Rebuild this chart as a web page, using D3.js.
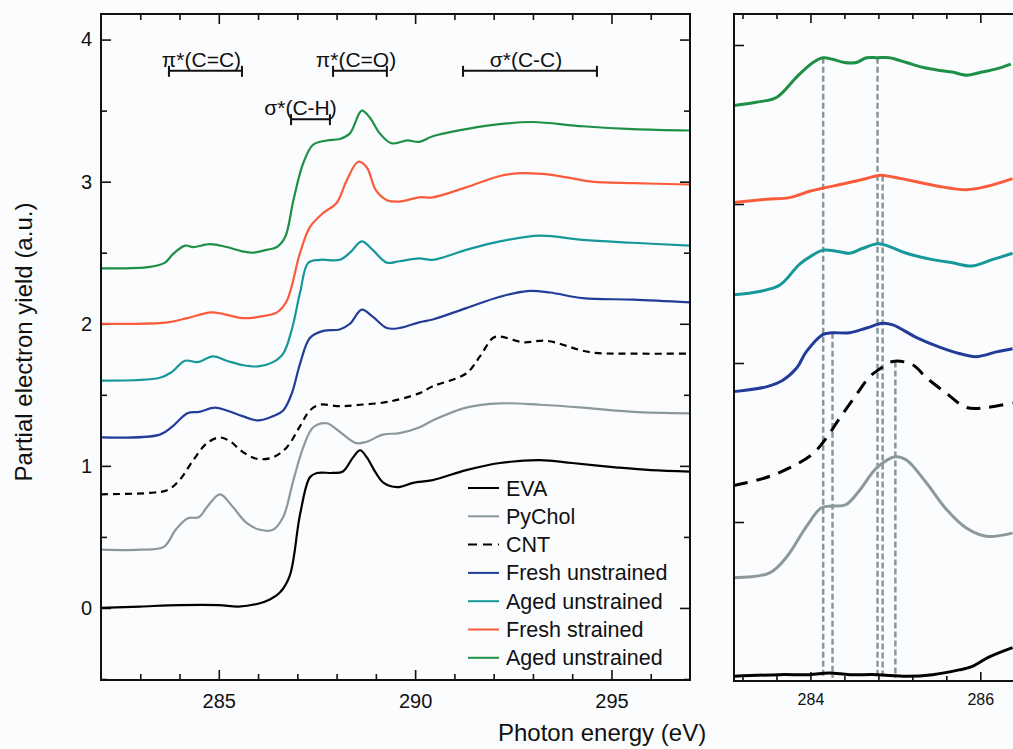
<!DOCTYPE html>
<html>
<head>
<meta charset="utf-8">
<script src="https://cdn.jsdelivr.net/npm/d3@7"></script>
<style>
    body { margin: 0; background: #fbfcfe; }
    svg { display: block; font-family: "Liberation Sans", Arial, sans-serif; }
    .tick text { font-size: 20px; fill: #111; }
    .tick line { stroke: #111; stroke-width: 1.6; }
</style>
</head>
<body>
<svg width="1013" height="749"></svg>
<script>
'use strict';

// full spectra, [photon energy (eV), yield]
let eva = [[282, 0], [283, 0.01], [284, 0.02], [285, 0.02], [285.5, 0.01], [286, 0.03], [286.3, 0.06], [286.56, 0.11],
    [286.81, 0.23], [287.07, 0.66], [287.32, 0.92], [287.5, 0.95], [287.9, 0.95], [288.16, 0.96], [288.42, 1.06],
    [288.6, 1.11], [288.77, 1.06], [289.0, 0.95], [289.2, 0.88], [289.54, 0.85], [289.95, 0.88], [290.45, 0.9],
    [291.3, 0.97], [292.16, 1.02], [293.18, 1.04], [294.0, 1.02], [295.1, 0.99], [296, 0.97], [297, 0.96]];
let pychol = [[282, 0.41], [283, 0.41], [283.6, 0.43], [283.9, 0.55], [284.2, 0.63], [284.5, 0.64], [284.7, 0.71],
    [285.03, 0.80], [285.36, 0.71], [285.7, 0.60], [286.05, 0.55], [286.38, 0.55], [286.64, 0.64], [286.9, 0.90],
    [287.15, 1.13], [287.4, 1.27], [287.75, 1.30], [288.08, 1.24], [288.5, 1.16], [288.77, 1.17], [289.18, 1.22],
    [289.6, 1.23], [290.1, 1.27], [290.45, 1.32], [291.3, 1.41], [292.16, 1.44], [293.18, 1.43], [294.27, 1.41],
    [295.55, 1.38], [297, 1.37]];
let cnt = [[282, 0.80], [283.25, 0.81], [283.7, 0.83], [284.0, 0.90], [284.35, 1.04], [284.7, 1.16], [285.03, 1.20],
    [285.3, 1.17], [285.6, 1.10], [285.96, 1.05], [286.38, 1.06], [286.73, 1.13], [287.07, 1.28], [287.32, 1.39],
    [287.58, 1.43], [288.08, 1.42], [288.6, 1.43], [289.3, 1.45], [290.1, 1.51], [290.45, 1.56], [291.3, 1.65],
    [291.65, 1.77], [291.98, 1.90], [292.16, 1.91], [292.75, 1.87], [293.35, 1.88], [294.45, 1.80], [295.55, 1.79],
    [297, 1.79]];
let freshUnstrained = [[282, 1.20], [283.5, 1.22], [283.83, 1.28], [284.2, 1.37], [284.5, 1.38], [284.9, 1.41],
    [285.2, 1.39], [285.6, 1.35], [286.0, 1.32], [286.38, 1.35], [286.64, 1.39], [286.86, 1.51], [287.07, 1.72],
    [287.32, 1.90], [287.66, 1.95], [288.08, 1.96], [288.34, 2.0], [288.64, 2.10], [288.92, 2.05], [289.28, 1.97],
    [289.6, 1.97], [290.1, 2.01], [290.45, 2.03], [291.3, 2.11], [292.16, 2.19], [292.85, 2.23], [293.43, 2.22],
    [294.27, 2.18], [295.55, 2.17], [297, 2.15]];
let agedUnstrained = [[282, 1.60], [283.5, 1.62], [283.8, 1.66], [284.14, 1.74], [284.47, 1.73], [284.85, 1.77],
    [285.2, 1.74], [285.6, 1.71], [286.0, 1.70], [286.38, 1.73], [286.64, 1.79], [286.86, 1.96], [287.07, 2.22],
    [287.28, 2.43], [287.58, 2.45], [288.08, 2.45], [288.34, 2.50], [288.64, 2.58], [288.92, 2.52], [289.28, 2.43],
    [289.6, 2.44], [290.1, 2.46], [290.45, 2.45], [291.3, 2.52], [292.16, 2.58], [293.18, 2.62], [294.27, 2.59],
    [295.55, 2.57], [297, 2.55]];
let freshStrained = [[282, 2.0], [283.7, 2.01], [284.2, 2.04], [284.8, 2.08], [285.1, 2.07], [285.6, 2.04],
    [286.05, 2.05], [286.48, 2.08], [286.73, 2.16], [287.07, 2.5], [287.32, 2.68], [287.66, 2.78], [288.0, 2.85],
    [288.26, 3.01], [288.55, 3.14], [288.77, 3.10], [289.0, 2.94], [289.28, 2.87], [289.6, 2.86], [290.1, 2.89],
    [290.45, 2.89], [291.3, 2.96], [292.16, 3.04], [292.67, 3.06], [293.43, 3.05], [294.5, 3.0], [295.55, 2.99],
    [297, 2.98]];
let agedUnstrained2 = [[282, 2.39], [283.25, 2.40], [283.63, 2.43], [283.83, 2.49], [284.14, 2.55], [284.35, 2.54],
    [284.78, 2.56], [285.2, 2.54], [285.6, 2.51], [285.87, 2.50], [286.22, 2.52], [286.48, 2.54], [286.69, 2.61],
    [286.9, 2.87], [287.15, 3.13], [287.4, 3.26], [287.75, 3.29], [288.08, 3.30], [288.34, 3.34], [288.64, 3.50],
    [288.85, 3.45], [289.1, 3.34], [289.4, 3.27], [289.8, 3.29], [290.1, 3.28], [290.45, 3.32], [291.3, 3.37],
    [292.33, 3.41], [293.0, 3.42], [294.27, 3.39], [295.55, 3.37], [297, 3.36]];

// zoomed pi* region (right panel), own vertical scale
let zEva = [[283.1, 0.03], [283.64, 0.04], [283.99, 0.04], [284.22, 0.05], [284.46, 0.04], [284.78, 0.04],
    [285.13, 0.03], [285.44, 0.04], [285.75, 0.07], [285.9, 0.09], [286.1, 0.15], [286.38, 0.21]];
let zPychol = [[283.1, 0.65], [283.52, 0.68], [283.72, 0.78], [283.95, 0.97], [284.13, 1.09], [284.26, 1.10],
    [284.42, 1.11], [284.58, 1.20], [284.78, 1.34], [285.0, 1.41], [285.13, 1.39], [285.36, 1.25], [285.6, 1.08],
    [285.84, 0.96], [286.07, 0.91], [286.38, 0.93]];
let zCnt = [[283.1, 1.23], [283.48, 1.28], [283.79, 1.35], [284.03, 1.43], [284.19, 1.53], [284.34, 1.65],
    [284.54, 1.80], [284.69, 1.91], [284.81, 1.96], [284.97, 2.01], [285.2, 1.99], [285.36, 1.91], [285.6, 1.81],
    [285.84, 1.72], [286.07, 1.72], [286.38, 1.75]];
let zFreshUnstrained = [[283.1, 1.82], [283.48, 1.85], [283.67, 1.89], [283.84, 1.97], [283.95, 2.07],
    [284.15, 2.18], [284.26, 2.19], [284.46, 2.19], [284.66, 2.22], [284.85, 2.25], [284.97, 2.24], [285.25, 2.16],
    [285.52, 2.10], [285.75, 2.06], [285.95, 2.04], [286.19, 2.07], [286.38, 2.09]];
let zAgedUnstrained = [[283.1, 2.43], [283.4, 2.45], [283.64, 2.49], [283.87, 2.62], [284.03, 2.68], [284.15, 2.71],
    [284.34, 2.70], [284.46, 2.69], [284.61, 2.72], [284.79, 2.75], [284.89, 2.74], [285.13, 2.69], [285.44, 2.65],
    [285.67, 2.63], [285.9, 2.61], [286.14, 2.65], [286.38, 2.69]];
let zFreshStrained = [[283.1, 3.01], [283.48, 3.03], [283.75, 3.04], [283.99, 3.08], [284.15, 3.10], [284.42, 3.13],
    [284.66, 3.16], [284.81, 3.18], [284.97, 3.17], [285.25, 3.14], [285.52, 3.11], [285.84, 3.09], [286.07, 3.11],
    [286.38, 3.16]];
let zAgedUnstrained2 = [[283.1, 3.62], [283.36, 3.64], [283.6, 3.67], [283.84, 3.80], [284.03, 3.89], [284.15, 3.92],
    [284.26, 3.91], [284.4, 3.89], [284.54, 3.89], [284.66, 3.92], [284.79, 3.92], [284.93, 3.92], [285.13, 3.89],
    [285.32, 3.86], [285.52, 3.84], [285.67, 3.83], [285.84, 3.81], [286.02, 3.83], [286.19, 3.85], [286.36, 3.88]];

// peak positions marked by grey dashed drop lines [energy, top]
let peakLines = [[284.15, 3.92], [284.26, 2.19], [284.79, 3.92], [284.85, 3.18], [285.0, 2.01]];

// resonance ranges [label, from, to, level]
let resonances = [["\u03c0*(C=C)", 283.73, 285.59, 3.78], ["\u03c0*(C=O)", 287.91, 289.28, 3.78],
    ["\u03c3*(C-H)", 286.84, 287.83, 3.44], ["\u03c3*(C-C)", 291.22, 294.63, 3.78]];

let seriesNames = ["EVA", "PyChol", "CNT", "Fresh unstrained", "Aged unstrained", "Fresh strained", "Aged unstrained"];
let seriesColors = ["#000000", "#8c999b", "#000000", "#233c98", "#16979a", "#fa5b3b", "#1d9045"];
let seriesDash = [null, null, "7,5", null, null, null, null];
let fullData = [eva, pychol, cnt, freshUnstrained, agedUnstrained, freshStrained, agedUnstrained2];
let zoomData = [zEva, zPychol, zCnt, zFreshUnstrained, zAgedUnstrained, zFreshStrained, zAgedUnstrained2];

let xTicks = [285, 290, 295];
let yTicks = [0, 1, 2, 3, 4];
let zxTicks = [284, 286];

let svg = d3.select("svg");

// ---------- left panel ----------
let L = {left: 101, right: 690, top: 14, bottom: 680};
let x = d3.scaleLinear().domain([282, 297]).range([L.left, L.right]);
let y = d3.scaleLinear().domain([-0.507, 4.18]).range([L.bottom, L.top]);

function ticks(g, scale, orient, pos, values, size, labels) {
    let axis = orient(scale).tickValues(values).tickSize(size).tickPadding(9)
        .tickFormat(labels ? d3.format("d") : "");
    let a = g.append("g").attr("transform", pos).call(axis)
        .attr("font-size", null).attr("font-family", null);
    a.select(".domain").remove();
    return a;
}

let left = svg.append("g");
let minorX = d3.range(283, 297, 1).filter(function (d) { return xTicks.indexOf(d) < 0; });
let minorY = [-0.5, 0.5, 1.5, 2.5, 3.5];

ticks(left, x, d3.axisBottom, `translate(0,${L.bottom})`, xTicks, -10, true)
    .selectAll("text").attr("dy", "0.95em");
ticks(left, x, d3.axisBottom, `translate(0,${L.bottom})`, minorX, -6, false);
ticks(left, x, d3.axisTop, `translate(0,${L.top})`, xTicks, -10, false);
ticks(left, x, d3.axisTop, `translate(0,${L.top})`, minorX, -6, false);
ticks(left, y, d3.axisLeft, `translate(${L.left},0)`, yTicks, -10, true);
ticks(left, y, d3.axisLeft, `translate(${L.left},0)`, minorY, -6, false);
ticks(left, y, d3.axisRight, `translate(${L.right},0)`, yTicks, -10, false);
ticks(left, y, d3.axisRight, `translate(${L.right},0)`, minorY, -6, false);

let line = d3.line()
    .x(function (d) { return x(d[0]); })
    .y(function (d) { return y(d[1]); })
    .curve(d3.curveCatmullRom.alpha(0.5));

left.selectAll(".spec")
    .data(fullData).enter()
    .append("path")
    .attr("class", "spec")
    .attr("d", line)
    .attr("fill", "none")
    .attr("stroke", function (d, i) { return seriesColors[i]; })
    .attr("stroke-width", 2.2)
    .attr("stroke-dasharray", function (d, i) { return seriesDash[i]; });

left.append("rect")
    .attr("x", L.left).attr("y", L.top)
    .attr("width", L.right - L.left).attr("height", L.bottom - L.top)
    .attr("fill", "none").attr("stroke", "#111").attr("stroke-width", 2);

// resonance brackets
let res = left.selectAll(".res").data(resonances).enter().append("g").attr("class", "res");
res.append("line")
    .attr("x1", function (d) { return x(d[1]); })
    .attr("x2", function (d) { return x(d[2]); })
    .attr("y1", function (d) { return y(d[3]); })
    .attr("y2", function (d) { return y(d[3]); });
res.append("line")
    .attr("x1", function (d) { return x(d[1]); })
    .attr("x2", function (d) { return x(d[1]); })
    .attr("y1", function (d) { return y(d[3]) - 5; })
    .attr("y2", function (d) { return y(d[3]) + 6; });
res.append("line")
    .attr("x1", function (d) { return x(d[2]); })
    .attr("x2", function (d) { return x(d[2]); })
    .attr("y1", function (d) { return y(d[3]) - 5; })
    .attr("y2", function (d) { return y(d[3]) + 6; });
res.selectAll("line").attr("stroke", "#111").attr("stroke-width", 2);
res.append("text")
    .attr("x", function (d, i) { return (x(d[1]) + x(d[2])) / 2 - (i === 2 ? 10 : 4); })
    .attr("y", function (d) { return y(d[3]) - 4; })
    .attr("text-anchor", "middle")
    .attr("font-size", 21)
    .attr("fill", "#111")
    .text(function (d) { return d[0]; });

// legend
let legend = left.append("g").attr("transform", "translate(468,488)");
let item = legend.selectAll(".item")
    .data(seriesNames).enter()
    .append("g")
    .attr("transform", function (d, i) { return `translate(0,${i * 28.3})`; });
item.append("line")
    .attr("x1", 0).attr("x2", 31)
    .attr("stroke", function (d, i) { return seriesColors[i]; })
    .attr("stroke-width", 2)
    .attr("stroke-dasharray", function (d, i) { return seriesDash[i] ? "9,6" : null; });
item.append("text")
    .attr("x", 38).attr("dy", "0.35em")
    .attr("font-size", 21.5)
    .attr("fill", "#111")
    .text(function (d) { return d; });

svg.append("text")
    .attr("transform", "translate(32,342) rotate(-90)")
    .attr("text-anchor", "middle")
    .attr("font-size", 24)
    .attr("fill", "#111")
    .text("Partial electron yield (a.u.)");

svg.append("text")
    .attr("x", 498).attr("y", 741)
    .attr("font-size", 24)
    .attr("fill", "#111")
    .text("Photon energy (eV)");

// ---------- right panel ----------
let R = {left: 734, right: 1044, top: 14, bottom: 681};
let zx = d3.scaleLinear().domain([283.1, 286.75]).range([R.left, R.right]);
let zy = d3.scaleLinear().domain([0, 4.195]).range([R.bottom, R.top]);
let right = svg.append("g");
let zMinor = d3.range(283.2, 286.7, 0.4).filter(function (d) {
    return Math.abs(d - 284) > 0.01 && Math.abs(d - 286) > 0.01;
});

let zt = ticks(right, zx, d3.axisBottom, `translate(0,${R.bottom})`, zxTicks, -9, true);
zt.selectAll("text").style("font-size", "16px").attr("dy", "0.95em");
ticks(right, zx, d3.axisBottom, `translate(0,${R.bottom})`, zMinor, -5, false);
ticks(right, zx, d3.axisTop, `translate(0,${R.top})`, zxTicks, -9, false);
ticks(right, zx, d3.axisTop, `translate(0,${R.top})`, zMinor, -5, false);
ticks(right, zy, d3.axisLeft, `translate(${R.left},0)`, [1, 2, 3, 4], -10, false);

right.selectAll(".peak")
    .data(peakLines).enter()
    .append("line")
    .attr("x1", function (d) { return zx(d[0]); })
    .attr("x2", function (d) { return zx(d[0]); })
    .attr("y1", function (d) { return zy(d[1]); })
    .attr("y2", zy(0.02))
    .attr("stroke", "#8a969b")
    .attr("stroke-width", 2.5)
    .attr("stroke-dasharray", "6,3");

let zline = d3.line()
    .x(function (d) { return zx(d[0]); })
    .y(function (d) { return zy(d[1]); })
    .curve(d3.curveCatmullRom.alpha(0.5));

right.selectAll(".zspec")
    .data(zoomData).enter()
    .append("path")
    .attr("class", "zspec")
    .attr("d", zline)
    .attr("fill", "none")
    .attr("stroke", function (d, i) { return seriesColors[i]; })
    .attr("stroke-width", 3)
    .attr("stroke-dasharray", function (d, i) { return seriesDash[i] ? "14,9" : null; });

right.append("rect")
    .attr("x", R.left).attr("y", R.top)
    .attr("width", R.right - R.left).attr("height", R.bottom - R.top)
    .attr("fill", "none").attr("stroke", "#111").attr("stroke-width", 2);
</script>
</body>
</html>
